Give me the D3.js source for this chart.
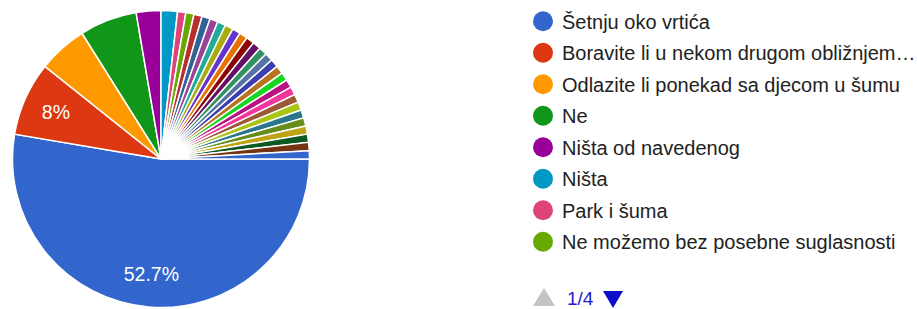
<!DOCTYPE html>
<html>
<head>
<meta charset="utf-8">
<script src="https://cdn.jsdelivr.net/npm/d3@7"></script>
<style>
  html, body { margin: 0; padding: 0; background: #fff; }
  svg { display: block; font-family: Arial, "Liberation Sans", sans-serif; }
</style>
</head>
<body>
<div id="chart"></div>
<script>
// responses per answer (112 in total), in the order google lists them
var counts = [59, 9, 6, 7, 3, 2,
              1, 1, 1, 1, 1, 1, 1, 1, 1, 1, 1, 1, 1,
              1, 1, 1, 1, 1, 1, 1, 1, 1, 1, 1, 1, 1];

// only page 1/4 of the legend is visible
var legendLabels = [
    "Šetnju oko vrtića",
    "Boravite li u nekom drugom obližnjem…",
    "Odlazite li ponekad sa djecom u šumu",
    "Ne",
    "Ništa od navedenog",
    "Ništa",
    "Park i šuma",
    "Ne možemo bez posebne suglasnosti"
];
var pageText = "1/4";

var palette = ["#3366cc", "#dc3912", "#ff9900", "#109618", "#990099", "#0099c6", "#dd4477",
    "#66aa00", "#b82e2e", "#316395", "#994499", "#22aa99", "#aaaa11", "#6633cc", "#e67300",
    "#8b0707", "#651067", "#329262", "#5574a6", "#3b3eac", "#b77322", "#16d620", "#b91383",
    "#f4359e", "#9c5935", "#a9c413", "#2a778d", "#668d1c", "#bea413", "#0c5922", "#743411"];

function visualize() {
    var w = 917, h = 309;
    var cx = 161, cy = 159, r = 148.5;

    var svg = d3.select("#chart").append("svg").attr("width", w).attr("height", h);

    var color = d3.scaleOrdinal().domain(d3.range(counts.length)).range(palette);
    var total = d3.sum(counts);

    var pie = d3.pie().sort(null).value(d => d)
        .startAngle(Math.PI / 2).endAngle(Math.PI / 2 + 2 * Math.PI);
    var arc = d3.arc().innerRadius(0).outerRadius(r);
    var labelArc = d3.arc().innerRadius(r * 0.775).outerRadius(r * 0.775);

    var g = svg.append("g").attr("transform", "translate(" + cx + "," + cy + ")");
    var slices = pie(counts);

    g.selectAll("path")
        .data(slices)
        .enter()
        .append("path")
        .attr("d", arc)
        .attr("fill", (d, i) => color(i))
        .attr("stroke", "#fff")
        .attr("stroke-width", 1.5);

    var fmt = d3.format(".1f");
    g.selectAll("text")
        .data(slices.filter(d => d.value / total >= 0.075))
        .enter()
        .append("text")
        .attr("transform", d => "translate(" + labelArc.centroid(d) + ")")
        .attr("text-anchor", "middle")
        .attr("dy", "0.36em")
        .attr("fill", "#fff")
        .style("font-size", "19.5px")
        .text(d => fmt(d.value / total * 100).replace(/\.0$/, "") + "%");

    // legend
    var legend = svg.append("g").attr("transform", "translate(543,21.3)");
    var rows = legend.selectAll("g")
        .data(legendLabels)
        .enter()
        .append("g")
        .attr("transform", (d, i) => "translate(0," + i * 31.5 + ")");
    rows.append("circle").attr("r", 10).attr("fill", (d, i) => color(i));
    rows.append("text")
        .attr("x", 19)
        .attr("y", 7.2)
        .attr("fill", "#222")
        .style("font-size", "20px")
        .text(d => d);

    // pager
    var pager = svg.append("g").attr("transform", "translate(533,306)");
    pager.append("path").attr("d", "M0,0 L11,-18 L22,0 Z").attr("fill", "#c4c4c4");
    pager.append("text")
        .attr("x", 34)
        .attr("y", -1)
        .attr("fill", "#2020c8")
        .style("font-size", "19px")
        .text(pageText);
    pager.append("path").attr("d", "M70,-15 L90,-15 L80,2 Z").attr("fill", "#0c0ccc");
}

document.addEventListener('DOMContentLoaded', () => {
    visualize();
});
</script>
</body>
</html>
